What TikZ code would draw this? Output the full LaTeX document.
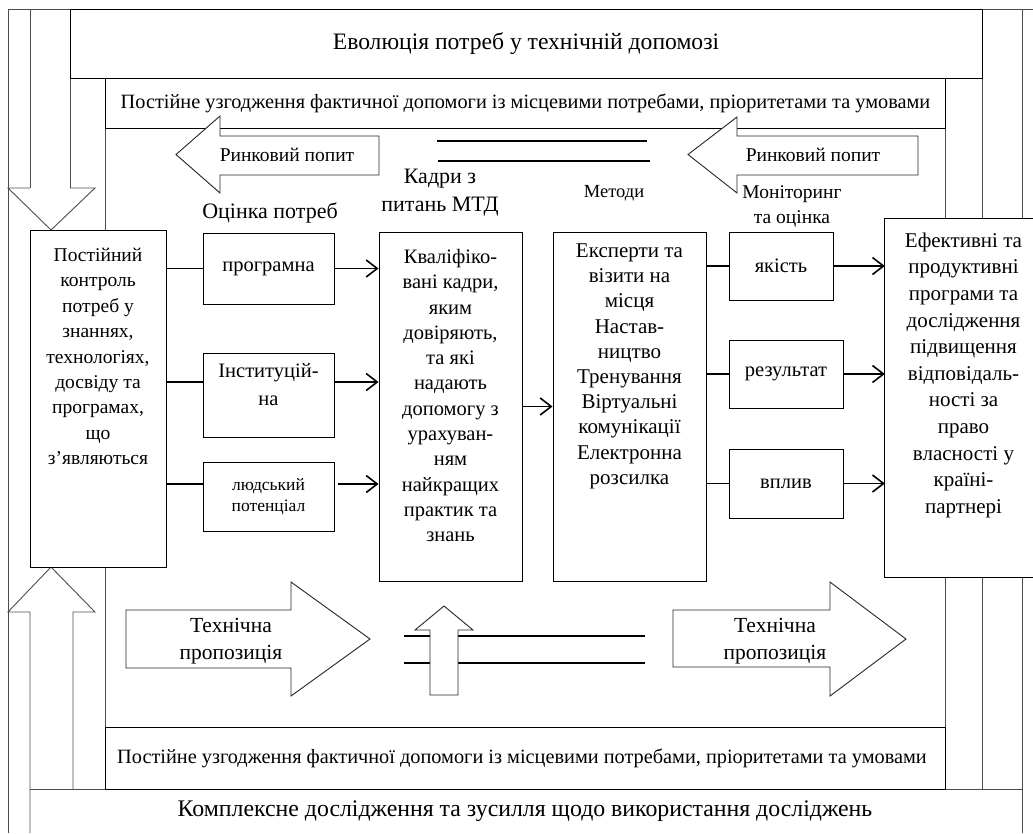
\documentclass[tikz,border=0pt]{standalone}
\usepackage{fontspec}
\setmainfont{Liberation Serif}
\usetikzlibrary{arrows.meta,calc}
\begin{document}
\begin{tikzpicture}[x=1pt,y=-1pt,
  frame/.style={draw=black!70, line width=0.9pt},
  box/.style={draw=black, line width=1pt, fill=white, inner sep=0pt, rectangle},
  blk/.style={draw=black!85, line width=0.9pt, fill=white, line join=miter},
  conn/.style={line width=1.4pt},
  arr/.style={line width=1.6pt, -{Straight Barb[length=11pt,width=17pt,line width=1.6pt]}},
  dbl/.style={line width=2pt},
  txt/.style={inner sep=0pt, align=center},
  fbig/.style={font=\fontsize{23.6}{27}\selectfont},
  fstrip/.style={font=\fontsize{20.3}{24}\selectfont},
  flab/.style={font=\fontsize{22}{28}\selectfont},
  fbody/.style={font=\fontsize{20.5}{25.3}\selectfont},
  fsmall/.style={font=\fontsize{17.5}{21}\selectfont},
]
\useasboundingbox (0,0) rectangle (1033,833);
% ---------- frame lines ----------
\draw[frame] (8,833) -- (8,9) -- (1033,9);
\draw[frame] (30,9) -- (30,188);
\draw[frame] (70,9) -- (70,188);
\draw[frame] (30,188) -- (8,188) -- (51,230) -- (95,188) -- (70,188);
\draw[frame] (30,833) -- (30,612) -- (8,612) -- (51,567) -- (95,612) -- (73,612) -- (73,789);
\draw[frame] (105,78) -- (105,789);
\draw[frame] (945,78) -- (945,789);
\draw[frame] (982,9) -- (982,789);
\draw[frame] (1022,9) -- (1022,833);
\draw[frame] (30,789) -- (1022,789);
% ---------- strips ----------
\node[box, minimum width=912, minimum height=69] (evol) at (526,43.5) {};
\node[txt, fbig] (evolt) at (526,43.5) {Еволюція потреб у технічній допомозі};
\node[box, minimum width=840, minimum height=50] (topstrip) at (525,103) {};
\node[txt, fstrip] (topstript) at (525.5,103) {Постійне узгодження фактичної допомоги із місцевими потребами, пріоритетами та умовами};
\node[box, minimum width=840, minimum height=62] (botstrip) at (525,758) {};
\node[txt, fstrip] (botstript) at (522,758) {Постійне узгодження фактичної допомоги із місцевими потребами, пріоритетами та умовами};
\node[txt, font=\fontsize{23.8}{27}\selectfont] (kompl) at (525,811) {Комплексне дослідження та зусилля щодо використання досліджень};
% ---------- market demand arrows ----------
\draw[blk] (379,136) -- (220,136) -- (220,116) -- (176,154.5) -- (220,193) -- (220,175) -- (379,175) -- cycle;
\node[txt, font=\fontsize{19.5}{23}\selectfont] (md1) at (287,155) {Ринковий попит};
\draw[blk] (688,154.5) -- (737,117) -- (737,136) -- (918,136) -- (918,175) -- (737,175) -- (737,193) -- cycle;
\node[txt, font=\fontsize{19.5}{23}\selectfont] (md2) at (813,155) {Ринковий попит};
\draw[dbl] (437,141) -- (647,141);
\draw[dbl] (438,161) -- (650,161);
% ---------- labels ----------
\node[txt, flab] (needsl) at (270,213) {Оцінка потреб};
\node[txt, flab] (kadryl) at (440,192.5) {Кадри з\\питань МТД};
\node[txt, font=\fontsize{18.5}{22}\selectfont] (methl) at (614,193) {Методи};
\node[txt, font=\fontsize{19.5}{25}\selectfont] (monl) at (792,206) {Моніторинг\\та оцінка};
% ---------- boxes ----------
\node[box, minimum width=136, minimum height=337] (ctrl) at (98,398.5) {};
\node[txt, font=\fontsize{19.5}{25.4}\selectfont, anchor=north] (ctrlt) at (98,248) {Постійний\\контроль\\потреб у\\знаннях,\\технологіях,\\досвіду та\\програмах,\\що\\з’являються};
\node[box, minimum width=131, minimum height=71, fbody] (prog) at (268.5,268.5) {програмна};
\node[box, minimum width=131, minimum height=84] (inst) at (268.5,395) {};
\node[txt, font=\fontsize{20.5}{28.5}\selectfont, anchor=north] (instt) at (268.5,363) {Інституцій-\\на};
\node[box, minimum width=131, minimum height=69, fsmall, align=center] (hum) at (268.5,496.5) {людський\\потенціал};
\node[box, minimum width=143, minimum height=349] (kadry) at (450.5,406.5) {};
\node[txt, fbody, anchor=north] (kadryt) at (450.5,249) {Кваліфіко-\\вані кадри,\\яким\\довіряють,\\та які\\надають\\допомогу з\\урахуван-\\ням\\найкращих\\практик та\\знань};
\node[box, minimum width=153, minimum height=349] (meth) at (629.5,406.5) {};
\node[txt, font=\fontsize{21}{25.2}\selectfont, anchor=north] (metht) at (629.5,243.5) {Експерти та\\візити на\\місця\\Настав-\\ництво\\Тренування\\Віртуальні\\комунікації\\Електронна\\розсилка};
\node[box, minimum width=104, minimum height=68, fbody] (yak) at (781,266) {якість};
\node[box, minimum width=114, minimum height=68, fbody] (rez) at (786,374) {результат};
\node[box, minimum width=114, minimum height=69, fbody] (vpl) at (786,483.5) {вплив};
\node[fill=white, inner sep=0pt, minimum width=148, minimum height=358] (eff) at (959,398) {};
\draw[line width=1pt] (eff.north east) -- (eff.north west) -- (eff.south west) -- (eff.south east);
\node[txt, font=\fontsize{21}{26.6}\selectfont, anchor=north] (efft) at (963.5,232.5) {Ефективні та\\продуктивні\\програми та\\дослідження\\підвищення\\відповідаль-\\ності за\\право\\власності у\\країні-\\партнері};
% ---------- connectors ----------
\draw[conn] (ctrl.east |- prog.west) -- (prog.west);
\draw[conn] ([yshift=13pt]inst.west -| ctrl.east) -- ([yshift=13pt]inst.west);
\draw[conn] ([yshift=12.5pt]hum.west -| ctrl.east) -- ([yshift=12.5pt]hum.west);
\draw[arr] (prog.east) -- (prog.east -| kadry.west);
\draw[arr] ([yshift=13pt]inst.east) -- ([yshift=13pt]inst.east -| kadry.west);
\draw[arr] ([yshift=12.5pt,xshift=3pt]hum.east) -- ([yshift=12.5pt]hum.east -| kadry.west);
\draw[arr] (kadry.east) -- (meth.west);
\draw[conn] (meth.east |- yak.west) -- (yak.west);
\draw[conn] (meth.east |- rez.west) -- (rez.west);
\draw[conn] (meth.east |- vpl.west) -- (vpl.west);
\draw[arr] (yak.east) -- (yak.east -| eff.west);
\draw[arr] (rez.east) -- (rez.east -| eff.west);
\draw[arr] (vpl.east) -- (vpl.east -| eff.west);
% ---------- technical proposal arrows ----------
\draw[blk] (126,610) -- (291,610) -- (291,582) -- (370,639) -- (291,696) -- (291,668) -- (126,668) -- cycle;
\node[txt, font=\fontsize{21.5}{27}\selectfont] (tp1) at (231,641.5) {Технічна\\пропозиція};
\draw[blk] (673,610) -- (830,610) -- (830,582) -- (906,639) -- (830,696) -- (830,667) -- (673,667) -- cycle;
\node[txt, font=\fontsize{21.5}{27}\selectfont] (tp2) at (775,641.5) {Технічна\\пропозиція};
\draw[dbl] (404,636) -- (645,636);
\draw[dbl] (404,663) -- (645,663);
\draw[blk] (430,695) -- (430,630) -- (415,630) -- (444,606) -- (473,630) -- (458,630) -- (458,695) -- cycle;
\end{tikzpicture}
\end{document}
